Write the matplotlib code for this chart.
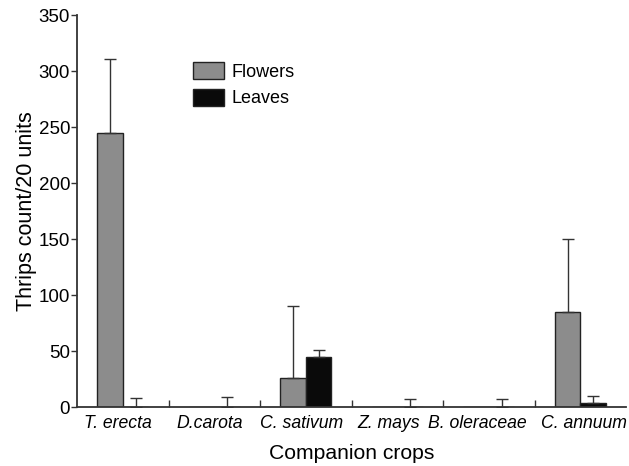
import matplotlib
matplotlib.use("Agg")
import matplotlib.pyplot as plt
import numpy as np

plt.rcParams['font.family'] = ['Liberation Sans', 'DejaVu Sans']

crops = ["T. erecta", "D.carota", "C. sativum", "Z. mays", "B. oleraceae", "C. annuum"]
flowers = [245, 0, 26, 0, 0, 85]
flowers_err = [66, 0, 64, 0, 0, 65]
leaves = [0, 0, 45, 0, 0, 3.5]
leaves_err = [8, 9, 6, 7, 7, 6]
yticks = [0, 50, 100, 150, 200, 250, 300, 350]

# small horizontal nudges (in points) of the category labels, as in the original figure
label_nudge = [-3.2, -3.6, -3.2, -6.1, -8.3, 2.5]

fig = plt.figure(figsize=(6.29, 4.66), dpi=100)
ax = fig.add_axes([0.1224, 0.1266, 0.873, 0.841])

x = np.arange(len(crops))
w = 0.28
edge = '#222222'
ax.bar(x - w/2, flowers, w, color='#8c8c8c', edgecolor=edge, linewidth=1.0, label='Flowers', zorder=2)
ax.bar(x + w/2, leaves, w, color='#0a0a0a', edgecolor=edge, linewidth=1.0, label='Leaves', zorder=2)

fl = np.array(flowers, float); fe = np.array(flowers_err, float)
mask = fe > 0
ax.errorbar((x - w/2)[mask], fl[mask], yerr=[np.zeros(mask.sum()), fe[mask]],
            fmt='none', ecolor='#333333', elinewidth=1.0, capsize=4, capthick=1.0, zorder=3)
lv = np.array(leaves, float); le = np.array(leaves_err, float)
ax.errorbar(x + w/2, lv, yerr=[np.zeros(len(x)), le],
            fmt='none', ecolor='#333333', elinewidth=1.0, capsize=4, capthick=1.0, zorder=3)

ax.set_xlim(-0.5, 5.5)
ax.set_ylim(0, 350)
ax.set_yticks(yticks)
ax.set_xticks(x)
ax.set_xticklabels([])
for xi, name, dx in zip(x, crops, label_nudge):
    ax.annotate(name, xy=(xi, 0), xycoords=ax.get_xaxis_transform(),
                xytext=(dx, -6), textcoords='offset points',
                ha='center', va='top', fontstyle='italic', fontsize=12.7,
                annotation_clip=False)
ax.tick_params(axis='x', which='major', length=0, pad=7)
ax.set_xticks(x[:-1] + 0.5, minor=True)
ax.tick_params(axis='x', which='minor', direction='in', length=5, width=1.0, color='#333333')
ax.tick_params(axis='y', direction='out', length=4, width=1.0, labelsize=13.5, color='#333333', pad=1)

for s in ['top', 'right']:
    ax.spines[s].set_visible(False)
for s in ['left', 'bottom']:
    ax.spines[s].set_linewidth(1.3)
    ax.spines[s].set_color('#333333')

ax.set_ylabel('Thrips count/20 units', fontsize=15.5, labelpad=1)
ax.text(0.5, -0.095, 'Companion crops', transform=ax.transAxes, ha='center', va='top',
        fontsize=15.2)

ax.legend(loc='upper left', bbox_to_anchor=(0.211, 0.88), frameon=False, fontsize=13,
          handlelength=1.75, handleheight=1.05, handletextpad=0.4, labelspacing=0.45,
          borderpad=0, borderaxespad=0)

fig.savefig('out.png', dpi=100)
